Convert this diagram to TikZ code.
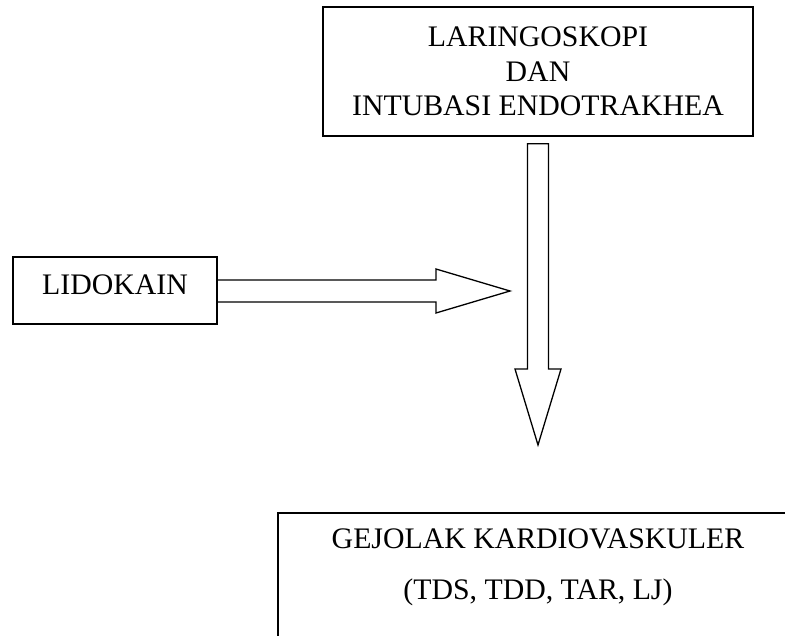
\documentclass[tikz,border=0pt]{standalone}
\usepackage{fontspec}
\setmainfont{Liberation Serif}
\usetikzlibrary{positioning,calc}

\tikzset{
  boxline/.style={draw, line width=1.6pt, inner sep=0pt, align=center},
  blockarr/.style={draw, line width=1.3pt, line join=miter},
}

\begin{document}
\begin{tikzpicture}[x=1pt,y=-1pt,font=\fontsize{29.8}{34.5}\selectfont]
  % page frame of the reference
  \useasboundingbox (0,0) rectangle (785,636);
  \clip (0,0) rectangle (785,636);

  % the three boxes
  \node[boxline, minimum width=430pt, minimum height=129pt] (intubasi) at (538,71.5)
    {LARINGOSKOPI\\DAN\\INTUBASI ENDOTRAKHEA};
  \node[boxline, minimum width=204pt, text height=38pt, text depth=29pt, anchor=north] (lido) at (115,256) {LIDOKAIN};
  \node[boxline, minimum width=520pt, text height=87pt, text depth=120pt, anchor=north,
    font=\fontsize{29.8}{51}\selectfont] (gejolak) at (538,512)
    {GEJOLAK KARDIOVASKULER\\(TDS, TDD, TAR, LJ)};

  % free ends of the two block arrows
  \coordinate (hTip) at (510,291);
  \coordinate (vTip) at (538,445);

  % block arrow from LIDOKAIN
  \draw[blockarr] (lido.east |- 0,280) -- (436,280) -- (436,269) -- (hTip)
    -- (436,313) -- (436,302) -- (lido.east |- 0,302);

  % block arrow down from the top box
  \draw[blockarr] ($(intubasi.south)+(-10.5,7)$) -- (527.5,369) -- (515,369) -- (vTip)
    -- (561,369) -- (548.5,369) -- ($(intubasi.south)+(10.5,7)$) -- cycle;
\end{tikzpicture}
\end{document}
